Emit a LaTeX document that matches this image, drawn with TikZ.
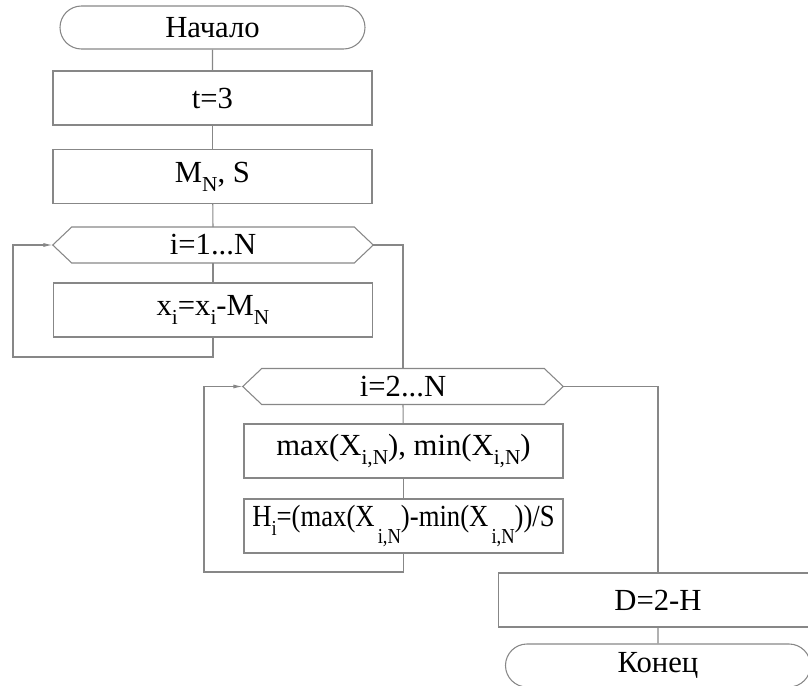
\documentclass[tikz,border=0pt]{standalone}
\usepackage{fontspec}
\setmainfont{Liberation Serif}
\usetikzlibrary{shapes.misc,arrows.meta,calc}
\definecolor{ln}{RGB}{135,135,135}
\newcommand{\sbs}[1]{\raisebox{-0.3em}{\fontsize{16}{16}\selectfont #1}}
\newcommand{\sbl}[1]{\raisebox{-0.55em}{\fontsize{16}{16}\selectfont #1}}
\begin{document}
\begin{tikzpicture}[x=0.75pt,y=-0.75pt,
  txt/.style={font=\fontsize{23}{26}\selectfont, text=black},
  term/.style={txt, rounded rectangle, draw=ln, line width=0.8pt, minimum width=228.75pt, minimum height=32.25pt, inner sep=0pt},
  blk/.style={txt, rectangle, draw=ln, line width=0.8pt, minimum width=239.25pt, minimum height=40.5pt, inner sep=0pt},
  hexb/.style={txt, rectangle, minimum width=240pt, minimum height=26.6pt, inner sep=0pt},
  conn/.style={draw=ln, line width=0.8pt},
  arr/.style={conn, -{Latex[length=7pt,width=3pt]}}
]
\path[use as bounding box] (0,0) rectangle (808,686);
\clip (0,0) rectangle (808,686);

\node[term] (start) at (212.5,27.5) {Начало};
\node[blk] (t3) at (212.5,98) {t=3};
\node[blk] (ms) at (212.5,176.5) {M\sbs{N}, S};
\node[hexb] (h1) at (213,245) {i=1...N};
\draw[conn] (h1.west) -- ($(h1.north west)+(19,0)$) -- ($(h1.north east)+(-19,0)$) -- (h1.east) -- ($(h1.south east)+(-19,0)$) -- ($(h1.south west)+(19,0)$) -- cycle;
\node[blk] (xb) at (213,310) {x\sbs{i}=x\sbs{i}-M\sbs{N}};

\node[hexb] (h2) at (403,386.5) {i=2...N};
\draw[conn] (h2.west) -- ($(h2.north west)+(19,0)$) -- ($(h2.north east)+(-19,0)$) -- (h2.east) -- ($(h2.south east)+(-19,0)$) -- ($(h2.south west)+(19,0)$) -- cycle;
\node[blk] (mx) at (403.5,451) {max(X\sbs{i,N}), min(X\sbs{i,N})};
\node[blk] (hb) at (403.5,526) {\scalebox{0.87}[1]{\raisebox{0.15em}{H\sbs{i}=(max(X\sbl{\,i,N})-min(X\sbl{\,i,N}))/S}}};
\node[blk] (D) at (658,600) {D=2-H};
\node[term] (end) at (658,665.5) {Конец};

\coordinate (l1a) at (213,357);
\coordinate (l1b) at (13,357);
\coordinate (l1c) at (13,245);
\coordinate (e1) at (403,245);
\coordinate (l2a) at (403.5,572);
\coordinate (l2b) at (204,572);
\coordinate (l2c) at (204,386.5);
\coordinate (e2) at (658,386.5);

\draw[conn] (start) -- (t3);
\draw[conn] (t3) -- (ms);
\draw[conn] (ms) -- (h1.north);
\draw[conn] (h1.south) -- (xb);
\draw[arr] (xb.south) -- (l1a) -- (l1b) -- (l1c) -- (h1.west);
\draw[conn] (h1.east) -- (e1) -- (h2.north);
\draw[conn] (h2.south) -- (mx);
\draw[conn] (mx) -- (hb);
\draw[arr] (hb.south) -- (l2a) -- (l2b) -- (l2c) -- (h2.west);
\draw[conn] (h2.east) -- (e2) -- (D.north);
\draw[conn] (D) -- (end);
\end{tikzpicture}
\end{document}
